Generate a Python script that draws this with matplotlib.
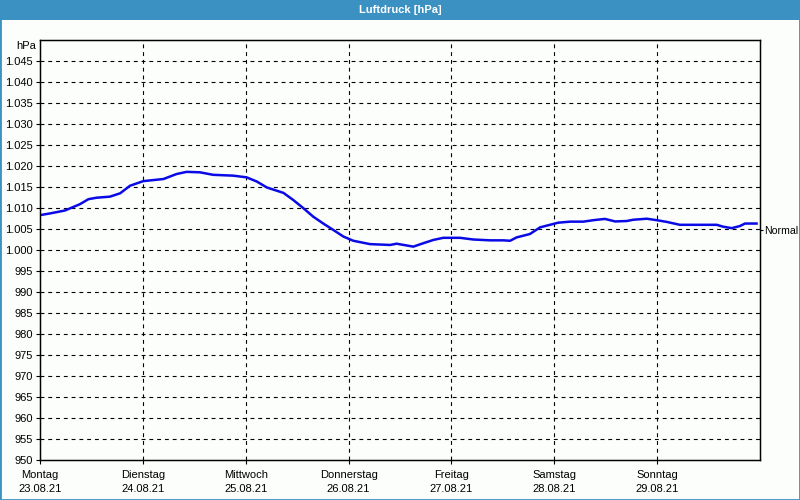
import matplotlib
matplotlib.use("Agg")
import matplotlib.pyplot as plt
from matplotlib.patches import Rectangle

plt.rcParams['font.family'] = ['Liberation Sans', 'DejaVu Sans']

# Data: hours since Monday 23.08.21 00:00, pressure in hPa
hours = [0, 2.3, 5.8, 9.3, 11.3, 13.2, 16.3, 18.7, 21, 24.1, 28.8, 31.9, 34.2,
         37.3, 40.4, 45.1, 48.2, 50.6, 52.9, 56.8, 59.1, 61.4, 63.8, 66.1, 68.4,
         70.8, 73.1, 77, 81.7, 83.2, 87.1, 89.4, 91.8, 94.1, 98, 101.1, 105,
         108.1, 109.7, 111.2, 114.3, 116.7, 119, 120.9, 123.7, 126.8, 129.1,
         131.8, 134.2, 136.9, 138.4, 141.6, 143.9, 146.2, 149.3, 153.2, 157.9,
         159.4, 161.4, 163.3, 164.5, 167.2]
pressure = [1008.3, 1008.7, 1009.4, 1010.9, 1012.1, 1012.45, 1012.7, 1013.5,
            1015.3, 1016.4, 1016.9, 1018.1, 1018.6, 1018.5, 1017.9, 1017.7,
            1017.3, 1016.3, 1014.9, 1013.6, 1011.9, 1010.0, 1007.9, 1006.3,
            1004.8, 1003.2, 1002.2, 1001.4, 1001.2, 1001.5, 1000.8, 1001.6,
            1002.4, 1002.9, 1002.9, 1002.5, 1002.3, 1002.3, 1002.2, 1003.0,
            1003.8, 1005.4, 1006.0, 1006.5, 1006.75, 1006.75, 1007.1, 1007.4,
            1006.8, 1006.9, 1007.2, 1007.45, 1007.1, 1006.7, 1006.0, 1006.0,
            1006.0, 1005.55, 1005.2, 1005.7, 1006.3, 1006.3]

day_names = ["Montag", "Dienstag", "Mittwoch", "Donnerstag", "Freitag", "Samstag", "Sonntag"]
day_dates = ["23.08.21", "24.08.21", "25.08.21", "26.08.21", "27.08.21", "28.08.21", "29.08.21"]
y_ticks = list(range(950, 1050, 5))
normal_value = 1004.7

def fmt(v):
    return f"{v:,}".replace(",", ".")

bg = "#FCFEFC"
blue_bar = "#3C91C3"
fs = 8
fig = plt.figure(figsize=(8, 5), dpi=100, facecolor=bg)

# Border and title bar
fig.patches.append(Rectangle((0, 0), 1, 1, transform=fig.transFigure, fill=False,
                             edgecolor=blue_bar, linewidth=2.0, zorder=0))
fig.patches.append(Rectangle((0, 480/500), 1, 20/500, transform=fig.transFigure,
                             facecolor=blue_bar, edgecolor='none', zorder=1))
fig.text(0.5, 490/500, "Luftdruck [hPa]", color="white", fontweight="bold",
         fontsize=fs, ha="center", va="center")

ax = fig.add_axes([40/800, 40/500, 720/800, 420/500], facecolor=bg)
ax.plot(hours, pressure, color="#0A0AE6", linewidth=1.8, zorder=3)

ax.set_xlim(0, 168)
ax.set_ylim(950, 1050)

ax.set_yticks(y_ticks)
ax.set_yticklabels([fmt(v) for v in y_ticks], fontsize=fs)
ax.set_xticks([24 * i for i in range(7)])
ax.set_xticklabels([f"{n}\n{d}" for n, d in zip(day_names, day_dates)], fontsize=fs,
                   linespacing=1.5)
ax.tick_params(axis="both", length=3, width=0.8, color="black", pad=2)
ax.tick_params(axis="x", pad=4)

for v in y_ticks[1:]:
    ax.axhline(v, color="black", linewidth=0.8, linestyle=(0, (3.5, 3.5)), zorder=1)
for i in range(1, 7):
    ax.axvline(24 * i, color="black", linewidth=0.8, linestyle=(0, (3.5, 3.5)), zorder=1)

for s in ax.spines.values():
    s.set_linewidth(1.0)
    s.set_color("black")

ax.text(-0.006, 1050 - 1.5, "hPa", transform=ax.get_yaxis_transform(), ha="right",
        va="center", fontsize=fs)

ax2 = ax.twinx()
ax2.set_ylim(950, 1050)
ax2.set_yticks([normal_value])
ax2.set_yticklabels(["Normal"], fontsize=7.6)
ax2.tick_params(axis="y", length=2.5, width=0.8, pad=0.5)

fig.savefig("out.png", dpi=100, facecolor=bg)
